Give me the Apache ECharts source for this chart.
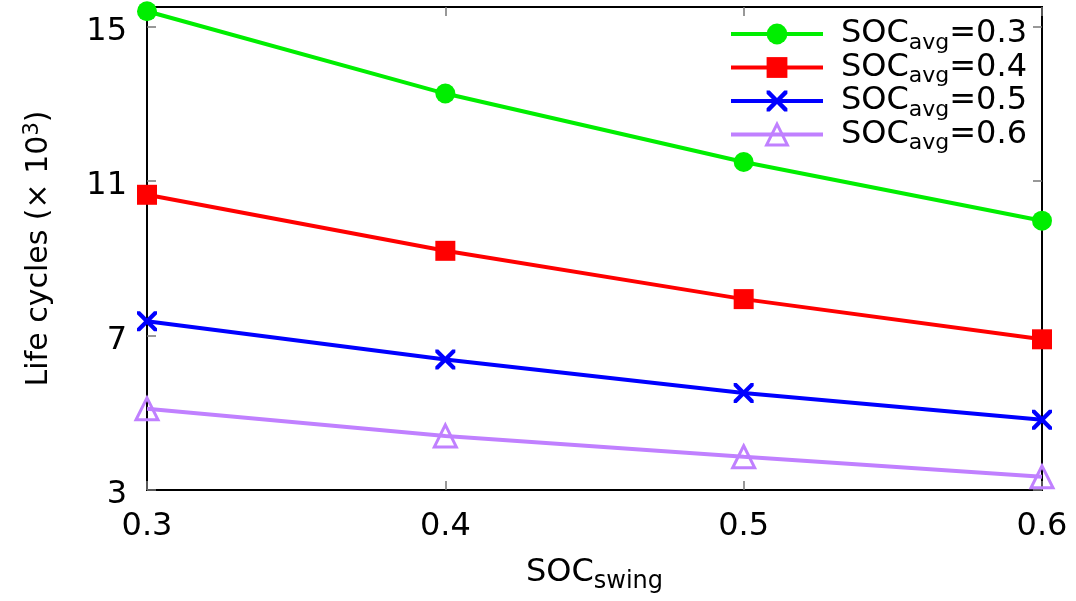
<!DOCTYPE html>
<html style="height: 100%">
<head>
    <meta charset="UTF-8">
    <title>Life cycles vs SOC swing</title>
    <script type="text/javascript" src="https://cdn.jsdelivr.net/npm/echarts@6/dist/echarts.min.js"></script>
</head>
<body style="height: 100%; margin: 0; background: #fff">
    <div id="container" style="width: 1076px; height: 601px"></div>

    <script type="text/javascript">
        // SOC swing values on the x axis
        var socSwing = [0.3, 0.4, 0.5, 0.6];
        var xTicks = [0.3, 0.4, 0.5, 0.6];
        var yTicks = [3, 7, 11, 15];

        // life cycles (x 10^3), one array per SOC_avg
        var avg03 = [15.39, 13.26, 11.49, 9.97];
        var avg04 = [10.64, 9.19, 7.94, 6.90];
        var avg05 = [7.37, 6.38, 5.51, 4.82];
        var avg06 = [5.10, 4.40, 3.86, 3.34];
        var avgLabels = ['0.3', '0.4', '0.5', '0.6'];

        var crossPath = 'path://M0,0 L3,0 L10,7 L17,0 L20,0 L20,3 L13,10 L20,17 L20,20 L17,20 L10,13 L3,20 L0,20 L0,17 L7,10 L0,3 Z';

        function pairs(ys) {
            return socSwing.map(function (x, i) { return [x, ys[i]]; });
        }

        var font = 'DejaVu Sans';
        var dom = document.getElementById('container');
        var myChart = echarts.init(dom);

        var seriesDefs = [
            { data: avg03, color: '#00ee00', symbol: 'circle', size: 20 },
            { data: avg04, color: '#ff0000', symbol: 'rect', size: 20 },
            { data: avg05, color: '#0000ff', symbol: crossPath, size: 20 },
            { data: avg06, color: '#c080ff', symbol: 'triangle', size: 22 }
        ];

        var series = seriesDefs.map(function (d, i) {
            var hollow = i === 3;
            return {
                name: avgLabels[i],
                type: 'line',
                data: pairs(d.data),
                symbol: d.symbol,
                symbolSize: d.size,
                showAllSymbol: true,
                clip: false,
                lineStyle: { color: d.color, width: 4 },
                itemStyle: hollow
                    ? { color: 'rgba(0,0,0,0)', borderColor: d.color, borderWidth: 3 }
                    : { color: d.color, borderWidth: 0 },
                emphasis: { disabled: true },
                animation: false,
                z: 3
            };
        });

        var tickStyle = { show: true, inside: true, length: 9, lineStyle: { color: '#777', width: 1.5 } };

        var option = {
            backgroundColor: '#fff',
            grid: {
                left: 147, right: 34, top: 7, bottom: 111,
                outerBoundsMode: 'none',
                containLabel: false,
                show: true, borderColor: '#000', borderWidth: 2,
                backgroundColor: 'transparent'
            },
            legend: {
                orient: 'vertical',
                left: 724,
                top: 12,
                itemWidth: 92,
                itemHeight: 26,
                itemGap: -3.5,
                selectedMode: false,
                lineStyle: { width: 4 },
                data: [
                    { name: '0.3' },
                    { name: '0.4' },
                    { name: '0.5' },
                    { name: '0.6', itemStyle: { borderWidth: 3 } }
                ],
                formatter: function (name) {
                    return '{a|SOC}{b|avg}{a|=' + name + '}';
                },
                textStyle: {
                    fontFamily: font,
                    rich: {
                        a: { fontFamily: font, fontSize: 32, color: '#000', height: 34, lineHeight: 34, verticalAlign: 'middle' },
                        b: { fontFamily: font, fontSize: 22, color: '#000', padding: [18, 0, 0, 0], verticalAlign: 'middle' }
                    },
                    padding: [0, 0, 0, 13]
                }
            },
            xAxis: [{
                type: 'value',
                min: 0.3,
                max: 0.6,
                position: 'bottom',
                name: '{a|SOC}{b|swing}',
                nameLocation: 'middle',
                nameGap: 62,
                nameTextStyle: {
                    rich: {
                        a: { fontFamily: font, fontSize: 32, color: '#000' },
                        b: { fontFamily: font, fontSize: 24, color: '#000', padding: [18, 0, 0, 0] }
                    }
                },
                axisLine: { show: false },
                axisTick: Object.assign({ customValues: xTicks }, tickStyle),
                splitLine: { show: false },
                axisLabel: {
                    customValues: xTicks,
                    formatter: function (v) { return v.toFixed(1); },
                    fontFamily: font, fontSize: 32, color: '#000', margin: 21
                }
            }, {
                type: 'value',
                min: 0.3,
                max: 0.6,
                position: 'top',
                axisLine: { show: false },
                axisTick: Object.assign({ customValues: xTicks }, tickStyle),
                splitLine: { show: false },
                axisLabel: { show: false }
            }],
            yAxis: [{
                type: 'value',
                min: 3,
                max: 15.5,
                position: 'left',
                name: 'Life cycles (× 10{s|3})',
                nameLocation: 'middle',
                nameRotate: 90,
                nameGap: 90,
                nameTextStyle: {
                    fontFamily: font, fontSize: 30, color: '#000',
                    rich: {
                        s: { fontFamily: font, fontSize: 21, color: '#000', padding: [0, 0, 14, 0] }
                    }
                },
                axisLine: { show: false },
                axisTick: Object.assign({ customValues: yTicks }, tickStyle),
                splitLine: { show: false },
                axisLabel: {
                    customValues: yTicks,
                    margin: 20,
                    formatter: function (v) { return '{v|' + v + '}'; },
                    rich: {
                        v: { fontFamily: font, fontSize: 32, color: '#000', padding: [10, 0, 0, 0] }
                    }
                }
            }, {
                type: 'value',
                min: 3,
                max: 15.5,
                position: 'right',
                axisLine: { show: false },
                axisTick: Object.assign({ customValues: yTicks }, tickStyle),
                splitLine: { show: false },
                axisLabel: { show: false }
            }],
            series: series
        };

        myChart.setOption(option);
    </script>
</body>
</html>
